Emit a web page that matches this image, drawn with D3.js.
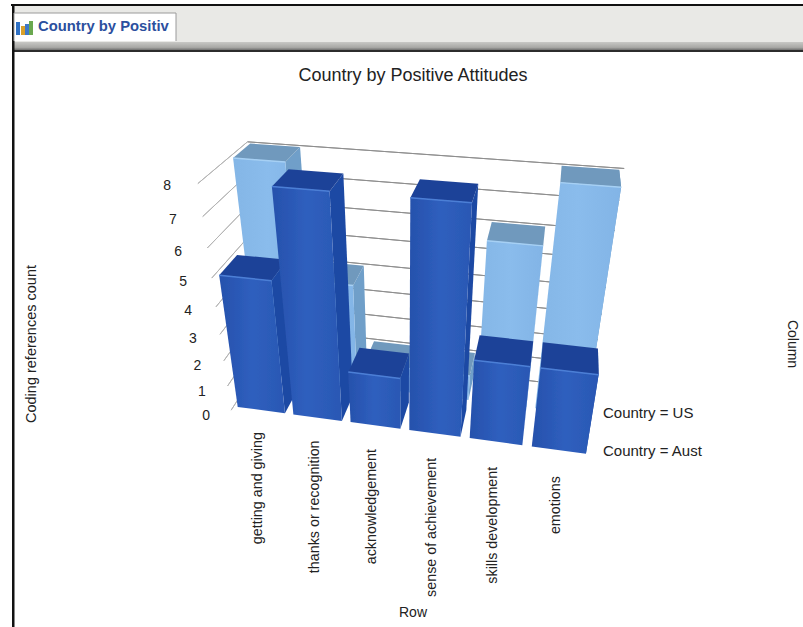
<!DOCTYPE html>
<html>
<head>
<meta charset="utf-8">
<script src="https://d3js.org/d3.v7.min.js"></script>
<style>
    body { margin: 0; background: #fff; }
    svg { display: block; }
    text { font-family: "Liberation Sans", Arial, sans-serif; fill: #222; }
</style>
</head>
<body>
<svg id="chart" width="803" height="627"></svg>
<script>
const categories = ["getting and giving", "thanks or recognition", "acknowledgement", "sense of achievement", "skills development", "emotions"]
const seriesNames = ["Country = Aust", "Country = US"]
const austValues = [5, 8, 2, 8, 3, 3]
const usValues = [8, 4, 1, 1, 6, 8]
const yTicks = [0, 1, 2, 3, 4, 5, 6, 7, 8]

// camera matrix, fitted against the reference bar corners
const cam = [
    [51.7439, -8.0997, 27.0342, 233.6149],
    [2.0227, -31.8089, -6.5649, 406.3437],
    [-0.013173, -0.020040, 0.046193, 1]
]
const project = (x, y, z) => {
    const w = cam[2][0] * x + cam[2][1] * y + cam[2][2] * z + cam[2][3]
    return [(cam[0][0] * x + cam[0][1] * y + cam[0][2] * z + cam[0][3]) / w,
            (cam[1][0] * x + cam[1][1] * y + cam[1][2] * z + cam[1][3]) / w]
}

const svg = d3.select('#chart')

// world scales, the projection turns these into pixels
const xScale = d3.scaleBand().domain(categories).range([0, 6]).paddingInner(0.15).paddingOuter(0.075)
const yScale = d3.scaleLinear().domain([0, 8]).range([0, 8])
const zScale = d3.scaleBand().domain(seriesNames).range([0, 2.4]).paddingInner(0.4 / 1.4)
const wallZ = 2.5, tickZ = -0.15

const poly = (pts) => d3.line()(pts.map(p => project(...p))) + 'Z'

const defs = svg.append('defs')
const addGradient = (id, stops, vertical) => {
    const g = defs.append('linearGradient').attr('id', id)
    if (vertical) g.attr('x2', 0).attr('y2', 1)
    stops.forEach(s => g.append('stop').attr('offset', s[0]).attr('stop-color', s[1]))
}
addGradient('austFront', [[0, '#2651ac'], [0.5, '#2f5fbe'], [1, '#2a58b4']])
addGradient('usFront', [[0, '#84b6e6'], [0.5, '#8abcec'], [1, '#82b4e6']])
addGradient('band', [[0, '#c8c8c5'], [0.6, '#a8a8a5'], [1, '#5a5a5a']], true)
defs.append('filter').attr('id', 'soft').append('feGaussianBlur').attr('stdDeviation', 0.5)

const styles = {
    "Country = Aust": { front: 'url(#austFront)', top: '#1f4398', side: '#1e4aa4', edge: '#4c7fd6' },
    "Country = US": { front: 'url(#usFront)', top: '#7099bd', side: '#6f9fc9', edge: '#a6d0f4' }
}

// window chrome around the chart
svg.append('rect').attr('x', 12).attr('y', 5).attr('width', 791).attr('height', 38).attr('fill', '#e9e9e6')
svg.append('rect').attr('x', 12).attr('y', 42).attr('width', 791).attr('height', 9).attr('fill', 'url(#band)')
svg.append('rect').attr('x', 12).attr('y', 50).attr('width', 791).attr('height', 2).attr('fill', '#2c2c2c')
svg.append('rect').attr('x', 11).attr('y', 4).attr('width', 792).attr('height', 2).attr('fill', '#111')
svg.append('rect').attr('x', 12).attr('y', 4).attr('width', 2.5).attr('height', 623).attr('fill', '#111')
svg.append('path').attr('d', 'M14,41V13H176V41').attr('fill', '#fff').attr('stroke', '#9a9a9a')
const icon = svg.append('g').attr('filter', 'url(#soft)')
icon.selectAll('rect').data([[16, 22, '#2f6fc4'], [21, 26, '#d9a02a'], [25, 24, '#3d78c8'], [29, 21, '#6aa84f']]).join('rect')
    .attr('x', d => d[0]).attr('y', d => d[1]).attr('width', 4).attr('height', d => 35 - d[1]).attr('fill', d => d[2])
svg.append('text').text('Country by Positiv').attr('x', 38).attr('y', 31)
    .attr('font-size', 14.8).attr('font-weight', 'bold').style('fill', '#2b4f9e')

// back wall grid lines
const grid = svg.append('g').attr('fill', 'none').attr('filter', 'url(#soft)')
grid.selectAll('path.back').data(yTicks).join('path').attr('class', 'back')
    .attr('d', d => poly([[0, yScale(d), wallZ], [6, yScale(d), wallZ]]))
    .attr('stroke', '#8f8f8f')
// side wall ticks, running from the back wall out to the value labels
grid.selectAll('path.side').data(yTicks).join('path').attr('class', 'side')
    .attr('d', d => poly([[0, yScale(d), wallZ], [0, yScale(d), tickZ]]))
    .attr('stroke', '#b4b4b4')

svg.append('g').selectAll('text').data(yTicks).join('text')
    .text(d => d)
    .attr('x', d => project(0, yScale(d), tickZ)[0] - 25 - d * 0.7)
    .attr('y', d => project(0, yScale(d), tickZ)[1] + 10 - d * 0.4)
    .attr('text-anchor', 'middle')
    .attr('font-size', 14)

// one bar: top, side and front faces plus the light rim on the front edge
const drawBar = (parent, cat, series, value) => {
    const x0 = xScale(cat), x1 = x0 + xScale.bandwidth()
    const z0 = zScale(series), z1 = z0 + zScale.bandwidth()
    const y = yScale(value), s = styles[series]
    const g = parent.append('g')
    g.append('path').attr('d', poly([[x1, 0, z0], [x1, 0, z1], [x1, y, z1], [x1, y, z0]])).attr('fill', s.side)
    g.append('path').attr('d', poly([[x0, y, z0], [x1, y, z0], [x1, y, z1], [x0, y, z1]])).attr('fill', s.top)
    g.append('path').attr('d', poly([[x0, 0, z0], [x1, 0, z0], [x1, y, z0], [x0, y, z0]])).attr('fill', s.front)
    g.append('path').attr('d', poly([[x0, y, z0], [x1, y, z0]])).attr('stroke', s.edge).attr('stroke-width', 1.5).attr('fill', 'none')
}

const bars = svg.append('g').attr('filter', 'url(#soft)')
categories.forEach((c, i) => drawBar(bars, c, seriesNames[1], usValues[i]))
categories.forEach((c, i) => drawBar(bars, c, seriesNames[0], austValues[i]))

// category labels, hanging below the front row
svg.append('g').selectAll('text').data(categories).join('text')
    .text(d => d)
    .attr('text-anchor', 'end')
    .attr('font-size', 14.3)
    .attr('transform', (d, i) => {
        const p = project(xScale(d) + xScale.bandwidth() / 2, 0, 0)
        return `translate(${p[0] + 1},${p[1] + 22 + i * 0.8}) rotate(-90)`
    })

// legend
const legendY = [451, 413]
svg.append('g').selectAll('text').data(seriesNames).join('text')
    .text(d => d)
    .attr('x', 603)
    .attr('y', (d, i) => legendY[i] + 5)
    .attr('font-size', 15)

// titles
svg.append('text').text('Country by Positive Attitudes').attr('x', 413).attr('y', 81).attr('text-anchor', 'middle').attr('font-size', 18)
svg.append('text').text('Row').attr('x', 413).attr('y', 617).attr('text-anchor', 'middle').attr('font-size', 14)
svg.append('text').text('Coding references count').attr('transform', 'translate(36,344) rotate(-90)').attr('text-anchor', 'middle').attr('font-size', 14.5)
svg.append('text').text('Column').attr('transform', 'translate(788,344) rotate(90)').attr('text-anchor', 'middle').attr('font-size', 14)
</script>
</body>
</html>
